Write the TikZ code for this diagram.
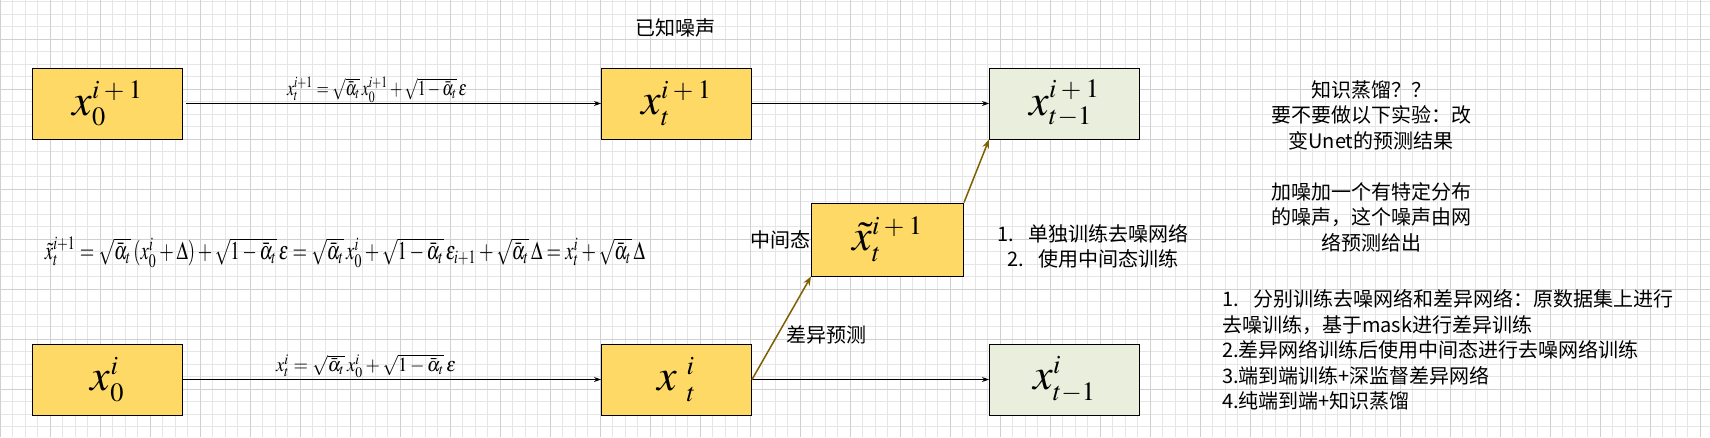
\documentclass[tikz,border=0pt]{standalone}
\usepackage{mathptmx}
\usepackage[no-math]{fontspec}
\setmainfont{Liberation Serif}
\newfontfamily\cjk{Noto Sans CJK SC}
\usepackage{graphicx}
\usetikzlibrary{positioning, arrows.meta}

\definecolor{boxyellow}{HTML}{FFD966}
\definecolor{boxgreen}{HTML}{E9EFDC}
\definecolor{arrowbrown}{HTML}{7F6000}
\definecolor{gridminor}{HTML}{E6E6E6}
\definecolor{gridmajor}{HTML}{D0D0D0}

\newcommand{\ipone}{\scriptscriptstyle i\mskip3mu+\mskip3mu1}

\tikzset{
  box/.style={draw, line width=1pt, minimum width=150pt, minimum height=71pt,
    inner sep=0pt, font=\fontsize{44}{44}\selectfont},
  yellowbox/.style={box, fill=boxyellow},
  greenbox/.style={box, fill=boxgreen},
  flow/.style={-{Stealth[length=7pt, width=5pt]}, line width=0.9pt},
  diffflow/.style={-{Stealth[length=9pt, width=7pt]}, draw=arrowbrown, line width=1.5pt},
  note/.style={font=\cjk\fontsize{20}{25.5}\selectfont, align=center, inner sep=0pt},
}

\begin{document}
\begin{tikzpicture}[x=1pt, y=-1pt]
        % background grid
        \fill[white] (0,0) rectangle (1710,437);
        \useasboundingbox (0,0) rectangle (1710,437);
        \foreach \gx in {0,12.5,...,1710} \draw[gridminor, line width=0.8pt] (\gx,0) -- (\gx,437);
        \foreach \gy in {1.7,14.2,...,437} \draw[gridminor, line width=0.8pt] (0,\gy) -- (1710,\gy);
        \foreach \gx in {0,50,...,1710} \draw[gridmajor, line width=0.8pt] (\gx,0) -- (\gx,437);
        \foreach \gy in {39.3,89.3,...,437} \draw[gridmajor, line width=0.8pt] (0,\gy) -- (1710,\gy);

        % boxes
        \node[yellowbox] (x0a) at (107.5,103.5) {$x^{\ipone}_{\scriptscriptstyle 0}$};
        \node[yellowbox] (xta) [right=418pt of x0a] {$x^{\ipone}_{\scriptscriptstyle t}$};
        \node[greenbox] (xsa) [right=237pt of xta] {$x^{\ipone}_{\scriptscriptstyle t-1}$};
        \node[yellowbox] (x0b) [below=204pt of x0a] {$x^{\scriptscriptstyle i}_{\scriptscriptstyle 0}$};
        \node[yellowbox] (xtb) [right=418pt of x0b] {$x\;{}^{\scriptscriptstyle i}_{\scriptscriptstyle t}$};
        \node[greenbox] (xsb) [right=237pt of xtb] {$x^{\scriptscriptstyle i}_{\scriptscriptstyle t-1}$};
        \node[yellowbox, minimum width=152pt, minimum height=73pt] (xmid) [above right=67pt and 59pt of xtb]
            {$\tilde{x}^{\ipone}_{\scriptscriptstyle t}$};

        % formulas
        \node (eqa) at (377,89.5) {\resizebox*{180pt}{26pt}{$x_t^{i+1}=\sqrt{\bar{\alpha}_t}\,x_0^{i+1}+\sqrt{1-\bar{\alpha}_t}\,\varepsilon$}};
        \node (eqb) at (366,366) {\resizebox*{180pt}{23pt}{$x_t^{i}=\sqrt{\bar{\alpha}_t}\,x_0^{i}+\sqrt{1-\bar{\alpha}_t}\,\varepsilon$}};
        \node (eqmid) at (345,252) {\resizebox*{600pt}{31pt}{$\tilde{x}_t^{i+1}=\sqrt{\bar{\alpha}_t}\,(x_0^i+\Delta)+\sqrt{1-\bar{\alpha}_t}\,\varepsilon=\sqrt{\bar{\alpha}_t}\,x_0^i+\sqrt{1-\bar{\alpha}_t}\,\varepsilon_{i+1}+\sqrt{\bar{\alpha}_t}\,\Delta=x_t^i+\sqrt{\bar{\alpha}_t}\,\Delta$}};

        % texts
        \node[note] (known) at (675,28) {已知噪声};
        \node[note] (midstate) [left=0pt of xmid] {中间态};
        \node[note] (steps) at (1093,246.5) {1.\hspace{15pt}单独训练去噪网络\\2.\hspace{15pt}使用中间态训练};
        \node[note] (idea) at (1371,166) {知识蒸馏？？\\要不要做以下实验：改\\变Unet的预测结果\\[25.5pt]加噪加一个有特定分布\\的噪声，这个噪声由网\\络预测给出};
        \node[note, align=left, anchor=west] (plans) at (1222,350) {1.\hspace{15pt}分别训练去噪网络和差异网络：原数据集上进行\\去噪训练，基于mask进行差异训练\\2.差异网络训练后使用中间态进行去噪网络训练\\3.端到端训练+深监督差异网络\\4.纯端到端+知识蒸馏};

        % connectors
        \draw[flow, shorten <=3pt] (x0a) -- (xta);
        \draw[flow] (xta) -- (xsa);
        \draw[flow] (x0b) -- (xtb);
        \draw[flow] (xtb) -- (xsb);
        \draw[diffflow] (xtb.east) -- node[note, pos=0.43, right=8pt] {差异预测} (xmid.south west);
        \draw[diffflow] (xmid.north east) -- (xsa.south west);
\end{tikzpicture}
\end{document}
